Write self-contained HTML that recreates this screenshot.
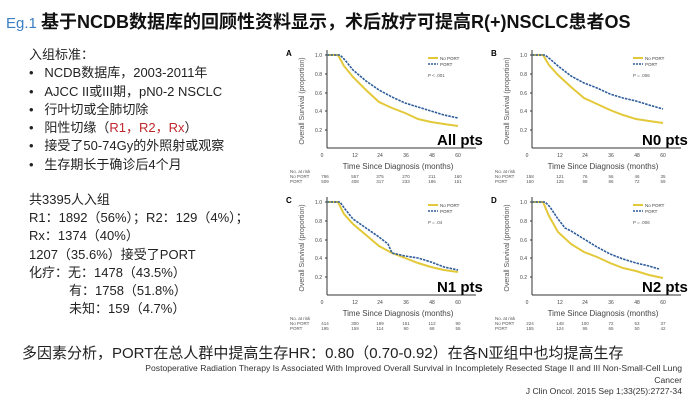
<!DOCTYPE html>
<html><head><meta charset="utf-8"><style>
body{margin:0;width:692px;height:402px;background:#fff;overflow:hidden;font-family:"Liberation Sans","Noto Sans CJK SC",sans-serif;position:relative;color:#222}
.t{position:absolute;white-space:nowrap}
</style></head><body>
<div class="t" style="left:6px;top:8px;font-size:18px;font-weight:bold;color:#111"><span style="color:#3b7fc4;font-size:15px;font-weight:normal">Eg.1 </span>基于NCDB数据库的回顾性资料显示，术后放疗可提高R(+)NSCLC患者OS</div>
<div class="t" style="left:29px;top:46px;font-size:13px;line-height:18.3px">
<div style="margin-left:0">入组标准：</div>
<div>•&nbsp;&nbsp;&nbsp;NCDB数据库，2003-2011年</div>
<div>•&nbsp;&nbsp;&nbsp;AJCC II或III期，pN0-2 NSCLC</div>
<div>•&nbsp;&nbsp;&nbsp;行叶切或全肺切除</div>
<div>•&nbsp;&nbsp;&nbsp;阳性切缘（<span style="color:#c0272d">R1，R2，Rx</span>）</div>
<div>•&nbsp;&nbsp;&nbsp;接受了50-74Gy的外照射或观察</div>
<div>•&nbsp;&nbsp;&nbsp;生存期长于确诊后4个月</div>
</div>
<div class="t" style="left:29px;top:191px;font-size:13px;line-height:18.2px">
<div>共3395人入组</div>
<div>R1：1892（56%）；R2：129（4%）；</div>
<div>Rx：1374（40%）</div>
<div>1207（35.6%）接受了PORT</div>
<div>化疗：无：1478（43.5%）</div>
<div style="padding-left:40px">有：1758（51.8%）</div>
<div style="padding-left:40px">未知：159（4.7%）</div>
</div>
<div class="t" style="left:22px;top:342px;font-size:15px">多因素分析，PORT在总人群中提高生存HR：0.80（0.70-0.92）在各N亚组中也均提高生存</div>
<div class="t" style="right:10px;top:363px;font-size:8.6px;text-align:right;line-height:11.5px;color:#333">Postoperative Radiation Therapy Is Associated With Improved Overall Survival in Incompletely Resected Stage II and III Non-Small-Cell Lung<br>Cancer<br>J Clin Oncol. 2015 Sep 1;33(25):2727-34</div>
<svg width="692" height="402" style="position:absolute;left:0;top:0" font-family="Liberation Sans, sans-serif">
<defs>
<g id="frame">
<line x1="327" y1="50" x2="327" y2="148" stroke="#333" stroke-width="1"/>
<line x1="327" y1="148" x2="476" y2="148" stroke="#333" stroke-width="1"/>
<g font-size="5" fill="#444" text-anchor="end">
<text x="322" y="57">1.0</text><text x="322" y="76">0.8</text><text x="322" y="95">0.6</text><text x="322" y="113">0.4</text><text x="322" y="132">0.2</text></g>
<g stroke="#333"><line x1="325" y1="55" x2="327" y2="55"/><line x1="325" y1="74" x2="327" y2="74"/><line x1="325" y1="93" x2="327" y2="93"/><line x1="325" y1="111" x2="327" y2="111"/><line x1="325" y1="130" x2="327" y2="130"/></g>
<g font-size="5" fill="#444" text-anchor="middle">
<text x="322" y="157">0</text><text x="355" y="157">12</text><text x="380" y="157">24</text><text x="406" y="157">36</text><text x="432" y="157">48</text><text x="458" y="157">60</text></g>
<text x="398" y="169" font-size="8" fill="#444" text-anchor="middle">Time Since Diagnosis (months)</text>
<text transform="translate(304,101) rotate(-90)" font-size="7" fill="#555" text-anchor="middle">Overall Survival (proportion)</text>
<line x1="428" y1="58" x2="438" y2="58" stroke="#e3c93a" stroke-width="2"/>
<line x1="428" y1="64" x2="438" y2="64" stroke="#2e5c9c" stroke-width="1.5" stroke-dasharray="2,1"/>
<text x="440" y="60" font-size="4.5" fill="#444">No PORT</text><text x="440" y="66" font-size="4.5" fill="#444">PORT</text>
<g font-size="4.5" fill="#555"><text x="290" y="173">No. at risk</text><text x="290" y="178">No PORT</text><text x="290" y="183">PORT</text></g>
</g>
</defs>
<text x="286" y="56" font-size="8" font-weight="bold">A</text>
<use href="#frame"/>
<text x="428" y="77" font-size="4.5" fill="#555">P &lt; .001</text>
<polyline fill="none" stroke="#e3c93a" stroke-width="2" points="327,55 338,55 344,66 353,77 366,90 379,102 392,108 405,113 418,119 431,122 444,124 458,126"/>
<polyline fill="none" stroke="#2e5c9c" stroke-width="1.6" stroke-dasharray="2.5,1" points="327,55 340,55 345,60 353,70 366,81 379,90 392,97 405,103 418,107 431,111 444,115 458,118"/>
<text x="437" y="145" font-size="15" font-weight="bold">All pts</text>
<g font-size="4.5" fill="#555" text-anchor="middle"><text x="325" y="178">796</text><text x="355" y="178">557</text><text x="380" y="178">375</text><text x="406" y="178">270</text><text x="432" y="178">211</text><text x="458" y="178">160</text>
<text x="325" y="183">509</text><text x="355" y="183">408</text><text x="380" y="183">317</text><text x="406" y="183">233</text><text x="432" y="183">186</text><text x="458" y="183">151</text></g>
<g transform="translate(205,0)">
<text x="286" y="56" font-size="8" font-weight="bold">B</text>
<use href="#frame"/>
<text x="428" y="77" font-size="4.5" fill="#555">P = .006</text>
<polyline fill="none" stroke="#e3c93a" stroke-width="2" points="327,55 338,55 344,65 353,75 366,87 379,98 392,104 405,110 418,115 431,119 444,121 458,123"/>
<polyline fill="none" stroke="#2e5c9c" stroke-width="1.6" stroke-dasharray="2.5,1" points="327,55 340,55 345,59 353,66 366,76 379,83 392,88 405,94 418,98 431,101 444,105 458,109"/>
<text x="437" y="145" font-size="15" font-weight="bold">N0 pts</text>
<g font-size="4.5" fill="#555" text-anchor="middle"><text x="325" y="178">158</text><text x="355" y="178">121</text><text x="380" y="178">76</text><text x="406" y="178">56</text><text x="432" y="178">46</text><text x="458" y="178">35</text>
<text x="325" y="183">150</text><text x="355" y="183">125</text><text x="380" y="183">98</text><text x="406" y="183">86</text><text x="432" y="183">72</text><text x="458" y="183">59</text></g>
</g>
<g transform="translate(0,147)">
<text x="286" y="56" font-size="8" font-weight="bold">C</text>
<use href="#frame"/>
<text x="428" y="77" font-size="4.5" fill="#555">P = .04</text>
<polyline fill="none" stroke="#e3c93a" stroke-width="2" points="327,55 338,55 344,67 353,77 366,88 379,99 392,106 405,111 418,116 431,120 444,123 458,125"/>
<polyline fill="none" stroke="#2e5c9c" stroke-width="1.6" stroke-dasharray="2.5,1" points="327,55 340,55 345,62 353,72 366,81 379,90 388,97 392,106 405,109 418,111 431,115 444,120 458,123"/>
<text x="437" y="145" font-size="15" font-weight="bold">N1 pts</text>
<g font-size="4.5" fill="#555" text-anchor="middle"><text x="325" y="178">414</text><text x="355" y="178">300</text><text x="380" y="178">199</text><text x="406" y="178">151</text><text x="432" y="178">112</text><text x="458" y="178">90</text>
<text x="325" y="183">195</text><text x="355" y="183">159</text><text x="380" y="183">114</text><text x="406" y="183">90</text><text x="432" y="183">68</text><text x="458" y="183">55</text></g>
</g>
<g transform="translate(205,147)">
<text x="286" y="56" font-size="8" font-weight="bold">D</text>
<use href="#frame"/>
<text x="428" y="77" font-size="4.5" fill="#555">P = .006</text>
<polyline fill="none" stroke="#e3c93a" stroke-width="2" points="327,55 338,55 344,69 353,85 366,97 379,105 392,110 405,116 418,121 431,124 444,128 458,131"/>
<polyline fill="none" stroke="#2e5c9c" stroke-width="1.6" stroke-dasharray="2.5,1" points="327,55 340,55 345,60 353,72 360,81 366,84 379,92 392,100 405,107 418,112 431,116 444,119 454,122"/>
<text x="437" y="145" font-size="15" font-weight="bold">N2 pts</text>
<g font-size="4.5" fill="#555" text-anchor="middle"><text x="325" y="178">224</text><text x="355" y="178">148</text><text x="380" y="178">100</text><text x="406" y="178">72</text><text x="432" y="178">53</text><text x="458" y="178">37</text>
<text x="325" y="183">155</text><text x="355" y="183">124</text><text x="380" y="183">95</text><text x="406" y="183">65</text><text x="432" y="183">50</text><text x="458" y="183">42</text></g>
</g>
</svg>
</body></html>
